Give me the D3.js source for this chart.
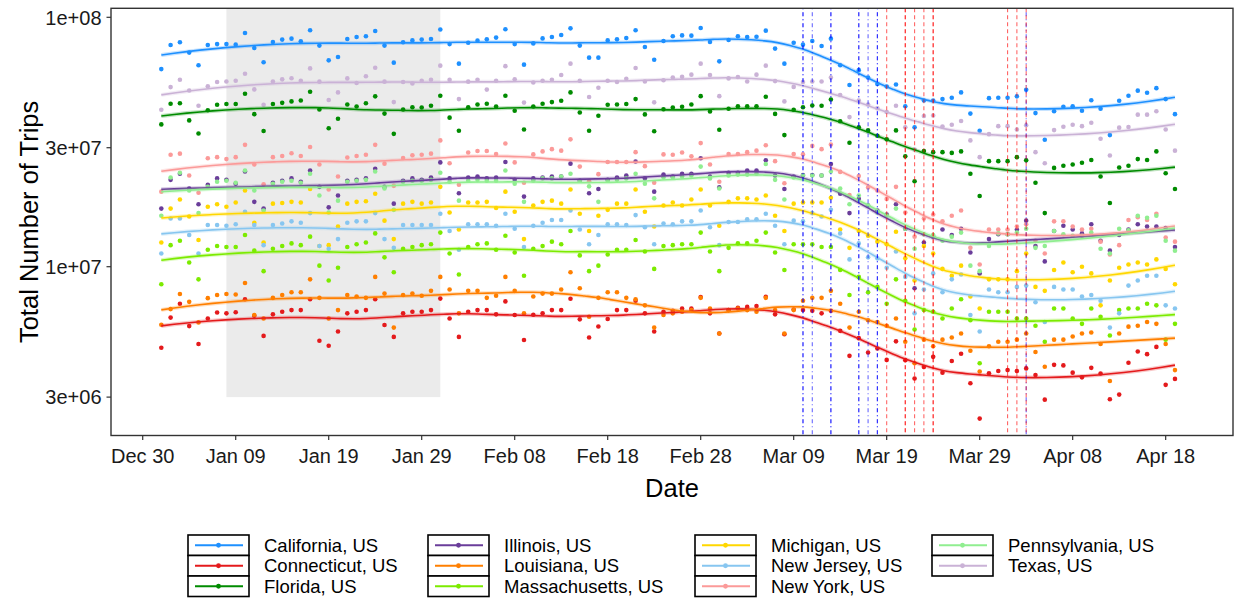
<!DOCTYPE html>
<html><head><meta charset="utf-8">
<script src="https://cdn.jsdelivr.net/npm/d3@7"></script>
<style>body{margin:0;background:#fff;} svg{display:block;font-family:"Liberation Sans",Arial,sans-serif;}</style>
</head><body><svg id="chart" width="1236" height="598"></svg>
<script>
// ---------- DATA (daily total trips, millions; 2020-01-01 .. 2020-04-19) ----------
const firstDay = "2020-01-01";
const states = ["California, US","Connecticut, US","Florida, US","Illinois, US","Louisiana, US","Massachusetts, US","Michigan, US","New Jersey, US","New York, US","Pennsylvania, US","Texas, US"];
const stateColors = ["#1E90FF","#E41A1C","#008B00","#6A3D9A","#FF7F00","#7CEB00","#FFD700","#87C6F0","#FB9A99","#90EE90","#CAB2D6"];

const california = [62.0,77.4,79.4,72.2,64.2,77.4,78.1,78.1,77.7,86.5, 75.3,66.0,79.6,81.4,82.1,80.1,88.7,77.0,67.2,69.3, 81.8,83.4,83.9,88.1,77.0,65.8,79.4,80.8,81.4,81.8, 89.3,78.1,65.2,79.1,80.6,81.6,82.9,89.5,78.1,64.6, 78.6,82.3,83.4,84.9,90.3,77.0,68.9,68.9,80.8,81.6, 82.6,88.7,76.0,67.6,80.3,83.9,84.6,84.4,90.6,79.6, 66.6,81.1,83.9,83.4,83.6,88.4,74.9,65.2,79.1,77.7, 80.3,76.7,82.1,64.2,53.5,61.4,57.4,54.0,52.8,53.8, 44.0,36.2,46.4,46.4,47.0,47.6,50.0,41.1,35.1,47.4, 47.6,47.6,48.2,51.2,41.3,32.3,42.0,43.8,44.0,42.2, 46.5,43.0,33.7,46.3,48.5,50.8,49.8,52.0,47.0,40.9];
const connecticut = [4.73,6.25,7.1,5.78,4.9,6.2,6.55,6.5,6.57,7.4, 6.36,5.28,6.44,6.6,6.7,6.7,7.4,5.05,4.82,5.5, 6.5,6.6,6.7,7.4,5.84,5.23,6.5,6.6,6.6,6.7, 7.45,6.2,5.23,6.6,6.7,6.7,6.44,7.26,6.4,5.08, 6.42,6.5,6.7,6.7,7.44,6.15,5.2,5.76,6.17,6.7, 6.7,7.3,6.5,5.5,6.6,6.66,6.8,6.8,7.56,6.5, 5.4,6.7,6.85,6.9,6.95,7.58,6.44,5.36,6.74,6.7, 6.66,6.5,6.66,5.53,4.39,5.17,4.53,4.7,4.23,5.02, 4.22,3.56,3.96,4.35,3.76,4.19,4.48,3.41,2.46,3.74, 3.82,3.85,3.82,3.91,3.68,2.93,4.04,4.02,3.76,3.6, 3.93,3.73,2.94,3.07,4.12,4.57,4.46,4.77,3.36,3.55];
const florida = [37.2,45.0,45.2,38.6,34.2,42.4,44.6,44.9,44.9,49.4, 40.9,35.0,44.9,45.4,46.0,46.4,50.3,42.7,35.9,39.2, 44.7,43.9,45.2,48.2,41.1,34.1,42.7,43.6,43.5,44.2, 48.5,39.6,35.1,43.6,44.7,45.0,43.9,48.5,42.2,35.5, 43.9,45.0,45.7,46.3,50.0,41.5,35.1,40.3,44.6,44.7, 44.9,47.0,40.8,34.9,42.8,43.5,43.8,44.7,48.3,41.9, 35.4,43.0,44.0,44.0,44.0,48.0,41.0,33.7,42.6,43.6, 44.3,44.2,46.8,38.3,31.4,36.2,35.2,33.5,32.4,35.2, 27.7,22.0,29.1,28.8,28.8,28.6,29.0,23.6,19.2,26.5, 26.5,26.5,27.5,26.7,21.7,16.4,24.9,25.4,25.7,26.1, 26.8,23.0,18.0,25.0,25.4,27.0,26.8,29.0,23.7,20.5];
const illinois = [17.1,22.3,23.6,20.6,17.8,21.3,22.6,22.3,21.5,24.1, 18.2,17.1,21.7,22.1,22.6,21.9,24.3,20.9,17.3,19.3, 22.1,22.3,22.6,24.7,20.9,17.9,22.1,22.6,22.3,22.8, 26.2,22.6,19.7,22.8,23.0,22.6,22.8,26.3,22.3,19.1, 22.6,22.8,23.0,23.0,25.9,22.1,19.7,20.5,22.3,22.8, 23.2,26.4,22.6,20.0,23.4,23.0,23.6,23.6,27.2,23.0, 20.8,23.8,23.8,24.3,24.3,26.7,23.2,20.5,23.0,23.3, 23.3,23.2,25.8,19.6,16.4,18.7,17.6,16.8,16.2,17.8, 14.2,8.2,12.5,13.2,14.1,13.4,14.2,11.4,9.4,12.9, 13.5,13.5,14.1,15.3,12.1,10.5,13.9,14.6,14.1,13.6, 14.8,12.7,11.6,13.4,14.1,14.8,14.5,14.5,14.3,12.0];
const louisiana = [5.85,6.76,7.77,7.23,5.98,7.48,7.70,7.77,7.74,8.6, 6.4,6.2,7.5,7.7,7.9,7.9,8.9,7.5,6.2,6.7, 7.7,7.6,7.5,9.1,7.8,5.7,7.7,7.8,7.65,8.0, 9.1,8.1,6.5,8.0,8.0,7.5,7.65,9.1,8.0,6.5, 7.6,7.8,7.8,8.1,9.5,8.2,6.3,7.5,7.9,7.9, 7.5,7.4,7.0,5.7,6.4,6.5,6.6,6.7,7.5,6.8, 5.4,6.7,6.8,6.7,6.6,7.5,6.7,5.4,6.7,7.3, 7.5,7.5,8.0,7.1,5.7,6.6,6.1,6.0,5.8,6.2, 5.0,4.1,5.1,4.8,5.1,5.2,5.4,4.6,3.8,4.8, 5.0,5.0,5.1,5.4,4.55,3.97,5.1,5.1,5.25,5.4, 5.45,4.9,3.48,5.4,5.75,5.8,6.0,5.9,4.9,3.85];
const massachusetts = [8.5,12.2,12.7,10.4,8.9,11.7,12.1,12.0,12.0,13.4, 11.6,9.6,11.8,12.1,12.4,12.2,13.2,10.1,8.8,9.9, 12.0,12.3,12.5,13.6,10.9,9.5,11.8,12.0,12.2,12.3, 13.7,11.3,9.3,12.0,12.3,12.4,11.7,13.3,11.4,9.2, 11.8,12.1,12.6,12.3,13.9,11.1,9.6,10.1,11.2,11.7, 11.7,12.8,11.5,9.8,12.1,12.2,12.3,12.3,13.7,11.5, 9.6,11.9,12.4,12.4,12.7,13.7,11.4,9.7,12.3,12.3, 12.3,12.0,12.0,9.7,7.7,9.1,7.9,8.3,7.1,8.9, 7.3,5.6,6.7,6.6,6.2,6.8,7.4,6.1,4.1,6.6, 6.6,6.6,6.2,6.2,5.8,5.0,6.8,6.8,6.2,5.9, 6.8,6.3,5.3,6.7,6.8,6.8,7.1,7.0,5.1,5.9];
const michigan = [12.5,17.1,18.6,15.9,12.8,17.4,17.8,17.4,18.1,20.2, 15.0,12.5,17.9,18.0,18.2,18.1,20.5,12.1,12.2,14.5, 17.9,18.2,18.3,19.6,15.3,12.9,17.9,18.2,17.9,18.1, 20.9,16.5,14.1,18.1,18.1,18.2,17.2,20.0,16.6,12.9, 17.6,18.2,18.4,17.9,20.4,16.3,13.9,16.0,16.9,17.9, 17.9,20.4,16.6,14.5,17.6,18.1,17.6,18.6,20.4,17.6, 14.6,18.2,18.8,18.8,18.6,19.3,16.0,13.9,17.9,18.1, 18.1,18.1,18.9,14.1,11.9,13.9,13.3,12.6,12.3,13.8, 10.8,8.8,12.1,11.3,9.8,9.2,10.1,7.6,6.8,8.9, 8.9,8.9,9.6,11.3,8.3,8.0,9.7,10.4,9.5,10.0, 9.4,7.0,8.8,9.9,10.2,10.4,10.2,10.7,9.8,8.5];
const newJersey = [11.3,15.6,15.6,13.4,11.3,14.7,14.7,14.6,14.8,16.6, 14.7,12.2,14.7,14.9,15.2,15.0,16.4,12.1,11.8,12.9, 15.0,15.2,15.2,16.4,12.9,11.9,14.7,14.7,14.7,14.7, 16.3,13.9,11.7,14.8,14.8,14.8,14.6,16.3,14.2,12.0, 14.6,15.0,15.4,15.4,16.8,14.1,12.3,13.4,14.8,14.8, 14.7,16.1,14.4,12.3,14.9,14.8,15.2,15.2,16.8,14.4, 12.2,15.1,15.1,15.5,15.5,16.3,14.6,12.3,15.3,15.2, 16.4,15.9,16.9,13.6,10.7,12.4,10.9,10.8,9.9,11.5, 9.1,6.5,8.1,9.4,7.9,8.9,9.3,6.4,5.5,8.1, 7.9,7.9,8.3,8.4,7.2,6.0,8.3,8.1,8.1,7.6, 7.7,7.3,5.7,6.5,8.4,8.8,9.2,9.2,7.0,6.8];
const newYork = [20.0,28.1,28.4,23.2,19.8,27.2,27.5,27.0,27.5,30.8, 25.7,21.4,27.5,27.8,28.5,27.8,30.2,25.7,20.4,23.0, 27.4,27.8,28.1,30.8,25.9,21.1,27.3,28.0,28.1,28.4, 32.1,26.0,21.3,28.7,29.1,29.1,28.3,31.2,26.2,21.7, 28.2,29.0,29.6,29.2,32.4,25.2,22.0,23.5,26.3,26.3, 26.3,28.8,25.3,21.7,28.2,28.1,28.7,27.7,31.3,25.7, 21.9,28.3,28.3,28.8,29.2,30.7,26.5,21.6,28.3,28.2, 30.5,29.6,30.9,24.0,19.4,23.1,20.8,20.2,18.7,20.9, 16.5,13.2,15.6,16.2,15.2,16.0,16.8,11.9,10.2,14.1, 14.1,14.1,14.5,14.8,12.7,11.3,15.2,15.2,14.5,14.1, 14.2,12.6,11.2,12.2,15.4,15.8,15.4,16.3,13.1,12.6];
const pennsylvania = [16.0,22.8,23.8,20.2,16.4,20.9,21.9,22.1,21.7,24.3, 20.2,16.8,21.5,21.9,22.1,21.7,23.6,19.3,16.5,18.4, 21.9,22.1,22.3,24.1,20.6,16.9,21.9,22.1,22.1,22.3, 23.8,21.9,18.4,22.1,22.3,22.1,22.1,24.3,21.5,18.2, 22.1,22.6,22.6,23.0,23.6,22.1,21.0,18.2,22.1,22.3, 22.6,23.6,21.5,18.8,22.8,22.8,23.0,23.2,25.2,22.6, 20.6,23.2,23.4,23.4,23.6,25.8,22.3,18.6,22.8,23.2, 23.2,23.2,24.1,20.6,17.8,19.3,17.6,16.5,16.0,17.1, 14.2,11.8,13.5,13.4,12.7,13.2,13.7,10.1,9.6,12.1, 13.6,13.5,13.7,14.2,11.9,12.1,13.9,13.5,13.3,13.3, 13.7,11.8,11.3,14.2,14.0,16.0,15.7,16.0,12.7,11.6];
const texas = [42.6,52.5,56.2,50.9,44.2,52.9,55.0,55.3,55.7,59.4, 51.4,44.6,55.3,56.4,57.0,55.7,62.4,55.2,46.6,50.0, 56.9,54.5,58.0,62.8,55.2,45.7,55.0,54.3,55.7,56.2, 64.0,56.2,47.0,55.2,56.2,51.3,55.7,63.7,56.4,45.5, 54.8,55.7,56.2,58.7,65.2,55.7,47.9,52.2,55.7,55.0, 56.7,62.6,55.3,45.6,55.9,57.4,57.8,58.9,65.2,58.7, 48.3,56.9,57.6,55.3,58.9,64.0,55.5,46.0,52.6,55.0, 55.3,55.3,57.3,48.8,39.8,46.4,44.7,43.2,41.7,44.2, 36.2,29.5,40.2,40.4,36.5,37.1,38.4,32.1,27.5,34.0, 36.6,36.6,35.5,36.9,28.8,26.0,35.3,36.4,37.1,36.6, 37.8,32.6,27.9,36.1,36.3,40.7,40.7,42.0,35.5,29.2];
const seriesValues = [california,connecticut,florida,illinois,louisiana,massachusetts,michigan,newJersey,newYork,pennsylvania,texas];

// shaded period and policy dates
const shadeStart = "2020-01-08", shadeEnd = "2020-01-31", shadeFloor = 3e6;
const emergencyDates = ["2020-03-10","2020-03-10","2020-03-11","2020-03-13","2020-03-13","2020-03-16","2020-03-16","2020-03-17","2020-03-18","2020-03-18","2020-04-03"];
const stayHomeDates = ["2020-03-19","2020-03-21","2020-03-21","2020-03-22","2020-03-23","2020-03-24","2020-03-24","2020-04-01","2020-04-02","2020-04-03"];

const xTickLabels = ["Dec 30","Jan 09","Jan 19","Jan 29","Feb 08","Feb 18","Feb 28","Mar 09","Mar 19","Mar 29","Apr 08","Apr 18"];
const yTickValues = [3e6,1e7,3e7,1e8];
const yTickLabels = ["3e+06","1e+07","3e+07","1e+08"];

// ---------- HELPERS ----------
const parse = s => { const [Y,M,D] = s.split("-").map(Number); return new Date(Date.UTC(Y,M-1,D)); };
const day0 = parse(firstDay);
const dayDate = i => new Date(day0.getTime() + i*864e5);

function loess(xs, ys, span, evalXs) {
  const n = xs.length, q = Math.max(3, Math.floor(n*span));
  return evalXs.map(x0 => {
    const d = xs.map(x => Math.abs(x-x0));
    const h = d.slice().sort((a,b)=>a-b)[q-1] * 1.0001;
    let S = [[0,0,0],[0,0,0],[0,0,0]], B = [0,0,0];
    for (let i=0;i<n;i++){
      if (d[i] >= h) continue;
      const r = d[i]/h, w = Math.pow(1-r*r*r,3);
      const u = xs[i]-x0, v = [1,u,u*u];
      for (let a=0;a<3;a++){ B[a]+=w*v[a]*ys[i]; for(let b=0;b<3;b++) S[a][b]+=w*v[a]*v[b]; }
    }
    const M = S.map((row,k)=>row.concat([B[k]]));
    for (let c=0;c<3;c++){
      let p=c; for(let r=c+1;r<3;r++) if(Math.abs(M[r][c])>Math.abs(M[p][c])) p=r;
      [M[c],M[p]]=[M[p],M[c]];
      for(let r=c+1;r<3;r++){ const f=M[r][c]/M[c][c]; for(let k=c;k<4;k++) M[r][k]-=f*M[c][k]; }
    }
    const sol=[0,0,0];
    for(let r=2;r>=0;r--){ let s=M[r][3]; for(let k=r+1;k<3;k++) s-=M[r][k]*sol[k]; sol[r]=s/M[r][r]; }
    return sol[0];
  });
}

// ---------- SCALES ----------
const svg = d3.select("#chart");
const P = {left:111, right:1233, top:8.3, bottom:435.5};
const x = d3.scaleUtc()
  .domain([new Date(Date.UTC(2019,11,26,14,10)), new Date(Date.UTC(2020,3,25,5,45))])
  .range([P.left, P.right]);
const y = d3.scaleLog().domain([Math.pow(10,6.3232), Math.pow(10,8.0361)]).range([P.bottom, P.top]);

svg.append("rect").attr("width",1236).attr("height",598).attr("fill","#fff");

svg.append("rect")
  .attr("x", x(parse(shadeStart))).attr("width", x(parse(shadeEnd))-x(parse(shadeStart)))
  .attr("y", P.top).attr("height", y(shadeFloor)-P.top)
  .attr("fill","#EBEBEB");

svg.append("clipPath").attr("id","pc").append("rect")
  .attr("x",P.left).attr("y",P.top).attr("width",P.right-P.left).attr("height",P.bottom-P.top);
const plotG = svg.append("g").attr("clip-path","url(#pc)");

// points
states.forEach((s,k) => {
  plotG.append("g").selectAll("circle").data(seriesValues[k]).join("circle")
    .attr("cx",(v,i)=>x(dayDate(i))).attr("cy",v=>y(v*1e6)).attr("r",2.3)
    .attr("fill",stateColors[k]);
});

// smooth lines (loess on log10 scale)
const nEval = 80, span = 0.36;
states.forEach((s,k) => {
  const vals = seriesValues[k];
  const xs = vals.map((v,i)=>i), ys = vals.map(v=>Math.log10(v*1e6));
  const ex = d3.range(nEval).map(j => j*(vals.length-1)/(nEval-1));
  const fit = loess(xs, ys, span, ex);
  const pts = ex.map((e,j)=>[x(new Date(day0.getTime()+e*864e5)), y(Math.pow(10,fit[j]))]);
  const line = d3.line().curve(d3.curveMonotoneX);
  plotG.append("path").attr("d",line(pts)).attr("fill","none").attr("stroke",stateColors[k]).attr("stroke-width",4).attr("stroke-opacity",0.25);
  plotG.append("path").attr("d",line(pts)).attr("fill","none").attr("stroke",stateColors[k]).attr("stroke-width",1.6);
});

// vertical policy lines
plotG.append("g").selectAll("line").data(emergencyDates).join("line")
  .attr("x1",d=>x(parse(d))).attr("x2",d=>x(parse(d))).attr("y1",P.top).attr("y2",P.bottom)
  .attr("stroke","#0000FF").attr("stroke-opacity",0.6).attr("stroke-width",1.1)
  .attr("stroke-dasharray","1,3,4,3");
plotG.append("g").selectAll("line").data(stayHomeDates).join("line")
  .attr("x1",d=>x(parse(d))).attr("x2",d=>x(parse(d))).attr("y1",P.top).attr("y2",P.bottom)
  .attr("stroke","#FF0000").attr("stroke-opacity",0.6).attr("stroke-width",1.1)
  .attr("stroke-dasharray","4,3");

// panel border
svg.append("rect").attr("x",P.left).attr("y",P.top).attr("width",P.right-P.left).attr("height",P.bottom-P.top)
  .attr("fill","none").attr("stroke","#333").attr("stroke-width",1.4);

// axes
const xTickDates = xTickLabels.map((l,k)=> new Date(Date.UTC(2019,11,30+10*k)));
const xg = svg.append("g");
xTickDates.forEach((d,k)=>{
  const px = x(d);
  xg.append("line").attr("x1",px).attr("x2",px).attr("y1",P.bottom).attr("y2",P.bottom+4.5).attr("stroke","#333").attr("stroke-width",1.2);
  xg.append("text").attr("x",px).attr("y",462.5).attr("text-anchor","middle").attr("font-size",20).attr("fill","#1a1a1a").text(xTickLabels[k]);
});
const yg = svg.append("g");
yTickValues.forEach((v,k)=>{
  const py = y(v);
  yg.append("line").attr("x1",P.left-4.5).attr("x2",P.left).attr("y1",py).attr("y2",py).attr("stroke","#333").attr("stroke-width",1.2);
  yg.append("text").attr("x",P.left-9.5).attr("y",py).attr("dy","0.36em").attr("text-anchor","end").attr("font-size",20).attr("fill","#1a1a1a").text(yTickLabels[k]);
});

svg.append("text").attr("x",(P.left+P.right)/2).attr("y",497).attr("text-anchor","middle").attr("font-size",25.5).attr("fill","#000").text("Date");
svg.append("text").attr("transform",`translate(38,${(P.top+P.bottom)/2}) rotate(-90)`).attr("text-anchor","middle").attr("font-size",25.5).attr("fill","#000").text("Total Number of Trips");

// legend (3 rows, filled by column)
const lg = svg.append("g");
const rows = 3, keyW = 61, keyH = 20.5, top0 = 535, legendFont = 18.5;
let cx = 188;
for (let c=0; c*rows < states.length; c++){
  let maxW = 0;
  for (let r=0;r<rows;r++){
    const k = c*rows + r; if (k>=states.length) break;
    const ky = top0 + r*keyH;
    lg.append("rect").attr("x",cx).attr("y",ky).attr("width",keyW).attr("height",keyH).attr("fill","#fff").attr("stroke","#000").attr("stroke-width",1.6);
    lg.append("line").attr("x1",cx+7).attr("x2",cx+keyW-6).attr("y1",ky+keyH/2).attr("y2",ky+keyH/2).attr("stroke",stateColors[k]).attr("stroke-width",1.8);
    lg.append("circle").attr("cx",cx+keyW/2).attr("cy",ky+keyH/2).attr("r",2.4).attr("fill",stateColors[k]);
    const t = lg.append("text").attr("x",cx+76).attr("y",ky+keyH/2).attr("dy","0.36em").attr("font-size",legendFont).attr("fill","#000").text(states[k]);
    maxW = Math.max(maxW, t.node().getComputedTextLength());
  }
  cx = Math.max(cx + 76 + maxW + 20, [188,428,695,932][c+1] || 0);
}
</script>
</body></html>
